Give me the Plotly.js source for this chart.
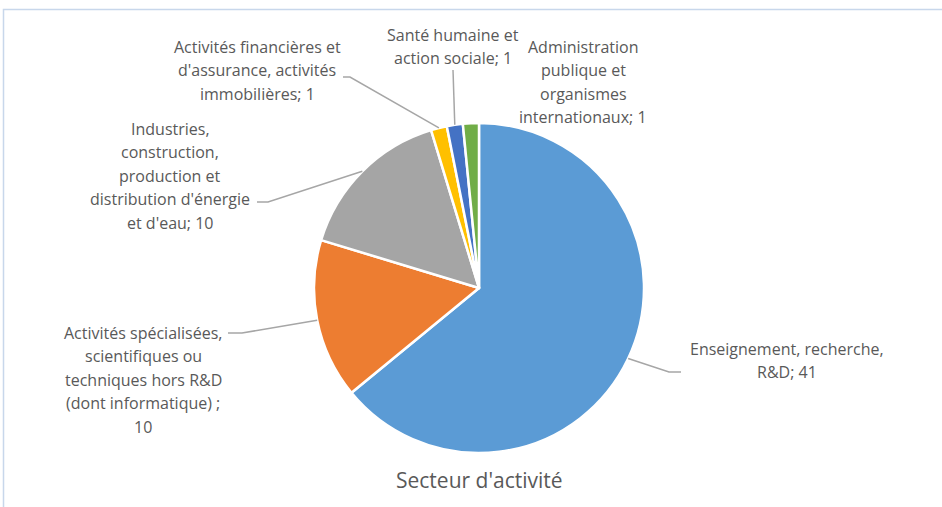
<!DOCTYPE html>
<html>
<head>
<meta charset="utf-8">
<script src="https://cdn.plot.ly/plotly-3.0.1.min.js"></script>
<style>html,body{margin:0;padding:0;background:#fff;}#chart{width:942px;height:507px;}</style>
</head>
<body>
<div id="chart"></div>
<script>
// ---- data ----
var categories = [
  "Enseignement, recherche, R&D",
  "Activités spécialisées, scientifiques ou techniques hors R&D (dont informatique)",
  "Industries, construction, production et distribution d'énergie et d'eau",
  "Activités financières et d'assurance, activités immobilières",
  "Santé humaine et action sociale",
  "Administration publique et organismes internationaux"
];
var values = [41, 10, 10, 1, 1, 1];
var colors = ["#5B9BD5", "#ED7D31", "#A5A5A5", "#FFC000", "#4472C4", "#70AD47"];
var labelLines = [
  ["Enseignement, recherche,", "R&D; 41"],
  ["Activités spécialisées,", "scientifiques ou", "techniques hors R&D", "(dont informatique) ;", "10"],
  ["Industries,", "construction,", "production et", "distribution d'énergie", "et d'eau; 10"],
  ["Activités financières et", "d'assurance, activités", "immobilières; 1"],
  ["Santé humaine et", "action sociale; 1"],
  ["Administration", "publique et", "organismes", "internationaux; 1"]
];
var chartTitle = "Secteur d'activité";

// ---- layout (pixels) ----
var W = 942, H = 507;
var cx = 479, cy = 288, R = 165;
var labelX = [787, 143, 170, 257, 453, 583];
var labelY0 = [349, 333, 129, 47, 35, 47];
var lineStep = 23.4;
// leader: [elbowX, elbowY, endX, endY] or null
var leaders = [
  [669, 372, 681, 372],
  [242, 333, 228, 333],
  [268, 202, 257, 202],
  [350, 77, 343, 77],
  [453, 70, 453, 70],
  null
];

function px(x) { return x / W; }
function py(y) { return 1 - y / H; }

var FONT = "'Open Sans', 'Noto Sans', sans-serif";
var total = values.reduce(function (a, b) { return a + b; }, 0);
var annotations = [];
var shapes = [];
var cum = 0;
values.forEach(function (v, i) {
  var mid = (cum + v / 2) / total * 2 * Math.PI;
  cum += v;
  var sx = cx + R * Math.sin(mid), sy = cy - R * Math.cos(mid);
  labelLines[i].forEach(function (t, k) {
    annotations.push({
      xref: "paper", yref: "paper",
      x: px(labelX[i]), y: py(labelY0[i] + k * lineStep),
      xanchor: "center", yanchor: "middle",
      text: t, showarrow: false,
      font: { family: FONT, size: 16, color: "#595959" }
    });
  });
  var L = leaders[i];
  if (L) {
    shapes.push({
      type: "path", xref: "paper", yref: "paper",
      path: "M " + px(sx) + " " + py(sy) + " L " + px(L[0]) + " " + py(L[1]) + " L " + px(L[2]) + " " + py(L[3]),
      line: { color: "#A6A6A6", width: 1.5 }
    });
  }
});

annotations.push({
  xref: "paper", yref: "paper", x: px(479), y: py(480),
  xanchor: "center", yanchor: "middle", showarrow: false,
  text: chartTitle,
  font: { family: FONT, size: 21, color: "#595959" }
});

shapes.push({
  type: "rect", xref: "paper", yref: "paper",
  x0: px(3.5), x1: 1.2, y0: -0.2, y1: py(9.5),
  line: { color: "#C8D7EB", width: 1.5 }, fillcolor: "rgba(0,0,0,0)", layer: "below"
});

var trace = {
  type: "pie",
  labels: categories,
  values: values,
  marker: { colors: colors, line: { color: "#FFFFFF", width: 2.5 } },
  sort: false,
  direction: "clockwise",
  rotation: 0,
  textinfo: "none",
  hoverinfo: "label+value",
  domain: { x: [px(cx - R), px(cx + R)], y: [py(cy + R), py(cy - R)] }
};

var layout = {
  width: W, height: H,
  margin: { l: 0, r: 0, t: 0, b: 0 },
  showlegend: false,
  paper_bgcolor: "#FFFFFF",
  annotations: annotations,
  shapes: shapes
};

Plotly.newPlot("chart", [trace], layout, { displayModeBar: false, staticPlot: true });
</script>
</body>
</html>
